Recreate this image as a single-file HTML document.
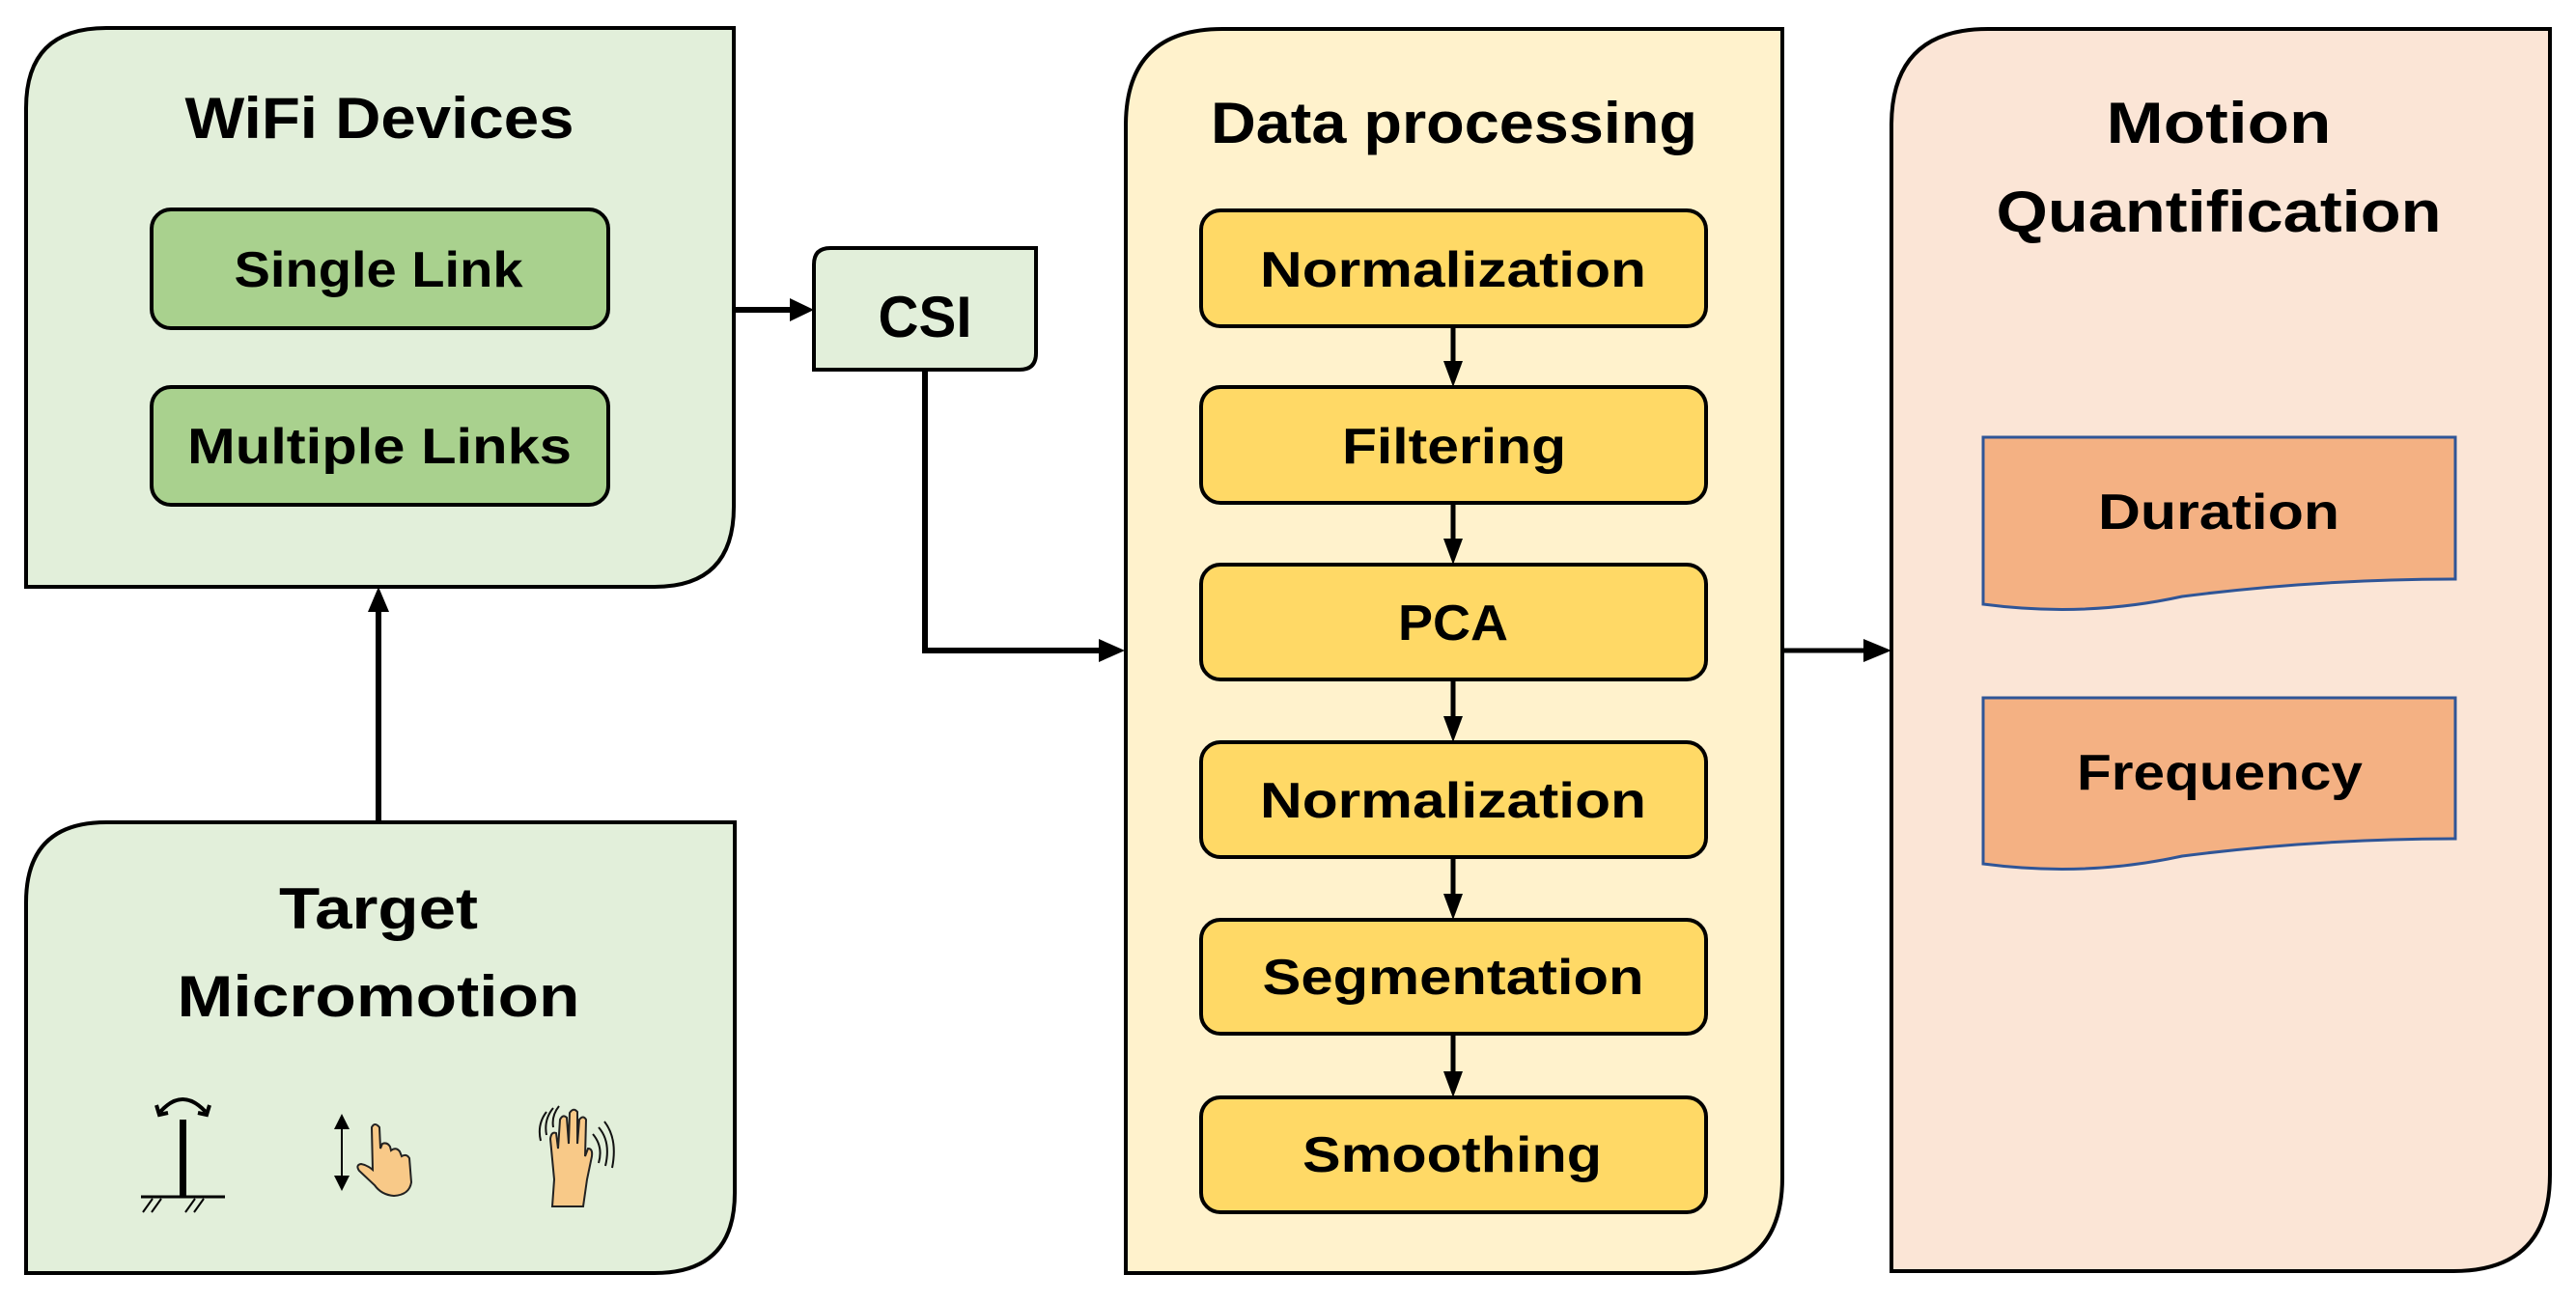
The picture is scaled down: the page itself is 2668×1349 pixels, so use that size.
<!DOCTYPE html>
<html><head><meta charset="utf-8"><style>html,body{margin:0;padding:0;background:#fff}svg{display:block}</style></head>
<body>
<svg width="2668" height="1349" viewBox="0 0 2668 1349" xmlns="http://www.w3.org/2000/svg" font-family="'Liberation Sans',sans-serif" font-weight="bold">
<defs>
<marker id="ah" markerWidth="6" markerHeight="6" refX="5" refY="3" orient="auto" markerUnits="strokeWidth"><path d="M0,0.6 L5,3 L0,5.4 z" fill="#000"/></marker>
</defs>
<!-- WiFi box -->
<path d="M110,29 H760 V525 Q760,608 678,608 H27 V112 Q27,29 110,29 Z" fill="#e2efda" stroke="#000" stroke-width="4"/>
<text x="393" y="143" font-size="60" text-anchor="middle" textLength="403" lengthAdjust="spacingAndGlyphs">WiFi Devices</text>
<rect x="157" y="217" width="473" height="123" rx="20" fill="#a9d18e" stroke="#000" stroke-width="4"/>
<text x="392" y="297" font-size="52" text-anchor="middle" textLength="299" lengthAdjust="spacingAndGlyphs">Single Link</text>
<rect x="157" y="401" width="473" height="122" rx="20" fill="#a9d18e" stroke="#000" stroke-width="4"/>
<text x="393" y="480" font-size="52" text-anchor="middle" textLength="398" lengthAdjust="spacingAndGlyphs">Multiple Links</text>
<!-- Target box -->
<path d="M110,852 H761 V1236 Q761,1319 678,1319 H27 V935 Q27,852 110,852 Z" fill="#e2efda" stroke="#000" stroke-width="4"/>
<text x="392" y="962" font-size="60" text-anchor="middle" textLength="206" lengthAdjust="spacingAndGlyphs">Target</text>
<text x="392" y="1053" font-size="60" text-anchor="middle" textLength="417" lengthAdjust="spacingAndGlyphs">Micromotion</text>
<!-- icons -->
<g stroke="#000" fill="none">
<rect x="186" y="1160" width="7" height="79" fill="#000" stroke="none"/>
<line x1="146" y1="1240" x2="233" y2="1240" stroke-width="3"/>
<path d="M148,1256 l10,-14 M157,1256 l10,-14 M192,1256 l10,-14 M201,1256 l10,-14" stroke-width="2"/>
<path d="M166,1152 Q189,1126 213,1152" stroke-width="4"/>
<path d="M162,1145 l3,10 l9,-2 M217,1145 l-3,10 l-9,-2" stroke-width="4"/>
<line x1="354" y1="1160" x2="354" y2="1226" stroke-width="2"/>
</g>
<path d="M346,1170 L354,1154 L362,1170 Z M346,1218 L354,1234 L362,1218 Z" fill="#000"/>
<path d="M385,1168 Q388,1162 393,1168 L394,1190 L396,1185 Q401,1183 404,1188 L405,1192 Q410,1188 414,1193 L416,1198 Q421,1195 424,1200 L426,1225 Q424,1238 408,1239 Q395,1238 388,1228 L372,1213 Q368,1207 374,1206 Q380,1207 386,1212 Z" fill="#f8c988" stroke="#222" stroke-width="2"/>
<path d="M572,1250 L574,1222 L570,1180 Q571,1172 576,1174 L578,1190 L580,1160 Q583,1154 587,1158 L589,1185 L590,1153 Q594,1147 598,1152 L598,1185 L600,1160 Q604,1155 607,1160 L606,1198 L609,1190 Q614,1190 613,1198 L608,1222 L604,1250 Z" fill="#f8c988" stroke="#222" stroke-width="2"/>
<path d="M566,1152 Q556,1165 560,1182 M573,1148 Q563,1160 566,1176 M579,1146 Q571,1156 573,1168 M614,1175 Q625,1188 620,1205 M620,1168 Q633,1183 627,1208 M626,1162 Q640,1180 634,1210" stroke="#111" stroke-width="2" fill="none"/>
<!-- arrows left -->
<line x1="392" y1="852" x2="392" y2="630" stroke="#000" stroke-width="6"/>
<path d="M381,634 L392,608 L403,634 Z" fill="#000"/>
<line x1="761" y1="321" x2="820" y2="321" stroke="#000" stroke-width="6"/>
<path d="M818,309 L843,321 L818,333 Z" fill="#000"/>
<!-- CSI -->
<path d="M860,257 H1073 V366 Q1073,383 1056,383 H843 V274 Q843,257 860,257 Z" fill="#e2efda" stroke="#000" stroke-width="4"/>
<text x="958" y="349" font-size="60" text-anchor="middle" textLength="97" lengthAdjust="spacingAndGlyphs">CSI</text>
<polyline points="958,383 958,674 1140,674" fill="none" stroke="#000" stroke-width="6"/>
<path d="M1138,662 L1165,674 L1138,686 Z" fill="#000"/>
<!-- Data processing -->
<path d="M1266,30 H1846 V1220 Q1846,1319 1747,1319 H1166 V130 Q1166,30 1266,30 Z" fill="#fff2cc" stroke="#000" stroke-width="4"/>
<text x="1506" y="148" font-size="60" text-anchor="middle" textLength="504" lengthAdjust="spacingAndGlyphs">Data processing</text>
<g fill="#ffd966" stroke="#000" stroke-width="4">
<rect x="1244" y="218" width="523" height="120" rx="20"/>
<rect x="1244" y="401" width="523" height="120" rx="20"/>
<rect x="1244" y="585" width="523" height="119" rx="20"/>
<rect x="1244" y="769" width="523" height="119" rx="20"/>
<rect x="1244" y="953" width="523" height="118" rx="20"/>
<rect x="1244" y="1137" width="523" height="119" rx="20"/>
</g>
<g font-size="52" text-anchor="middle">
<text x="1505" y="297" textLength="400" lengthAdjust="spacingAndGlyphs">Normalization</text>
<text x="1506" y="480" textLength="232" lengthAdjust="spacingAndGlyphs">Filtering</text>
<text x="1505" y="663" textLength="114" lengthAdjust="spacingAndGlyphs">PCA</text>
<text x="1505" y="847" textLength="400" lengthAdjust="spacingAndGlyphs">Normalization</text>
<text x="1505" y="1030" textLength="395" lengthAdjust="spacingAndGlyphs">Segmentation</text>
<text x="1504" y="1214" textLength="310" lengthAdjust="spacingAndGlyphs">Smoothing</text>
</g>
<g stroke="#000" stroke-width="5">
<line x1="1505" y1="338" x2="1505" y2="378"/>
<line x1="1505" y1="521" x2="1505" y2="562"/>
<line x1="1505" y1="704" x2="1505" y2="746"/>
<line x1="1505" y1="888" x2="1505" y2="930"/>
<line x1="1505" y1="1071" x2="1505" y2="1114"/>
</g>
<g fill="#000">
<path d="M1495,374 L1505,401 L1515,374 Z"/>
<path d="M1495,558 L1505,585 L1515,558 Z"/>
<path d="M1495,742 L1505,769 L1515,742 Z"/>
<path d="M1495,926 L1505,953 L1515,926 Z"/>
<path d="M1495,1110 L1505,1137 L1515,1110 Z"/>
</g>
<line x1="1846" y1="674" x2="1935" y2="674" stroke="#000" stroke-width="5"/>
<path d="M1930,662 L1959,674 L1930,686 Z" fill="#000"/>
<!-- Motion Quantification -->
<path d="M2059,30 H2641 V1217 Q2641,1317 2541,1317 H1959 V130 Q1959,30 2059,30 Z" fill="#fbe5d6" stroke="#000" stroke-width="4"/>
<text x="2298" y="148" font-size="60" text-anchor="middle" textLength="233" lengthAdjust="spacingAndGlyphs">Motion</text>
<text x="2298" y="240" font-size="60" text-anchor="middle" textLength="461" lengthAdjust="spacingAndGlyphs">Quantification</text>
<path d="M2054,453 H2543 V600 Q2400,600 2260,618 Q2160,640 2054,626 Z" fill="#f4b183" stroke="#2f5597" stroke-width="3"/>
<text x="2298" y="548" font-size="52" text-anchor="middle" textLength="250" lengthAdjust="spacingAndGlyphs">Duration</text>
<path d="M2054,723 H2543 V869 Q2400,869 2260,887 Q2160,909 2054,895 Z" fill="#f4b183" stroke="#2f5597" stroke-width="3"/>
<text x="2299" y="818" font-size="52" text-anchor="middle" textLength="296" lengthAdjust="spacingAndGlyphs">Frequency</text>
</svg>
</body></html>
